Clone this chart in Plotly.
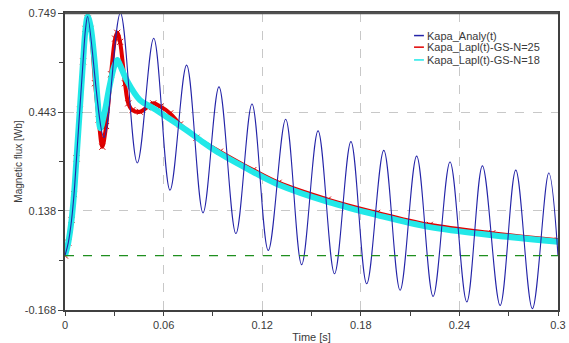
import plotly.graph_objects as go

# ---- data ----
t_analy = [0, 0.002, 0.004, 0.0055, 0.007, 0.009, 0.011, 0.0125, 0.0138,
           0.0237, 0.0337, 0.044, 0.054, 0.0639, 0.074, 0.084, 0.0937, 0.104,
           0.1138, 0.1237, 0.1343, 0.144, 0.154, 0.164, 0.174, 0.1836, 0.194,
           0.2039, 0.214, 0.224, 0.2343, 0.2445, 0.254, 0.2648, 0.2743, 0.2844,
           0.2944, 0.3]
v_analy = [0, 0.04, 0.11, 0.19, 0.30, 0.45, 0.60, 0.70, 0.738,
           0.365, 0.749, 0.286, 0.671, 0.202, 0.588, 0.132, 0.521, 0.068,
           0.468, 0.016, 0.421, -0.028, 0.385, -0.056, 0.352, -0.087, 0.325,
           -0.107, 0.307, -0.126, 0.289, -0.143, 0.277, -0.154, 0.264, -0.164,
           0.255, 0.0]

t_n25 = [0, 0.002, 0.004, 0.0055, 0.007, 0.009, 0.011, 0.0125, 0.0138, 0.0155,
         0.0183, 0.0205, 0.0227, 0.025, 0.028, 0.0305, 0.0318, 0.0335, 0.0365,
         0.0385, 0.041, 0.0456, 0.050, 0.0537, 0.058, 0.064, 0.070, 0.080,
         0.0943, 0.1146, 0.13, 0.16, 0.19, 0.222, 0.26, 0.3]
v_n25 = [0, 0.04, 0.11, 0.19, 0.30, 0.45, 0.60, 0.70, 0.732, 0.70,
         0.532, 0.42, 0.336, 0.40, 0.56, 0.67, 0.688, 0.66, 0.532,
         0.470, 0.449, 0.444, 0.458, 0.470, 0.460, 0.439, 0.405, 0.364,
         0.321, 0.264, 0.225, 0.173, 0.132, 0.095, 0.069, 0.047]

t_n18 = [0, 0.002, 0.004, 0.0055, 0.007, 0.009, 0.011, 0.0125, 0.0138, 0.0155,
         0.018, 0.0200, 0.0215, 0.024, 0.027, 0.030, 0.0318, 0.0335, 0.0375,
         0.0456, 0.0537, 0.064, 0.074, 0.084, 0.0943, 0.1146, 0.13, 0.16, 0.19,
         0.222, 0.26, 0.3]
v_n18 = [0, 0.04, 0.11, 0.19, 0.30, 0.45, 0.60, 0.70, 0.738, 0.71,
         0.60, 0.47, 0.393, 0.44, 0.52, 0.585, 0.604, 0.588, 0.542,
         0.480, 0.455, 0.421, 0.387, 0.350, 0.315, 0.258, 0.219, 0.166, 0.125,
         0.088, 0.063, 0.043]

names = ["Kapa_Analy(t)", "Kapa_Lapl(t)-GS-N=25", "Kapa_Lapl(t)-GS-N=18"]
colors = ["#2424a8", "#e00000", "#22e8e8"]

x_ticks = [0, 0.06, 0.12, 0.18, 0.24, 0.3]
x_ticktext = ["0", "0.06", "0.12", "0.18", "0.24", "0.3"]
x_minor = [0.03, 0.09, 0.15, 0.21, 0.27]
y_ticks = [-0.168, 0.138, 0.443, 0.749]
y_ticktext = ["-0.168", "0.138", "0.443", "0.749"]
y_minor = [-0.015, 0.2905, 0.596]

FONT = "Liberation Sans, Arial, sans-serif"
TXT = "#3a3a3a"

fig = go.Figure()
fig.add_hline(y=0, line=dict(color="#1f8f1f", width=1.2, dash="dash"))

fig.add_trace(go.Scatter(x=t_n25, y=v_n25, mode="lines+markers", name=names[1],
                         line=dict(color=colors[1], width=4, shape="spline"),
                         marker=dict(symbol="x-thin", size=6, line=dict(color="#d00000", width=1)),
                         showlegend=False))
fig.add_trace(go.Scatter(x=t_n18, y=v_n18, mode="lines", name=names[2],
                         line=dict(color=colors[2], width=6, shape="spline"),
                         showlegend=False))
fig.add_trace(go.Scatter(x=t_analy, y=v_analy, mode="lines", name=names[0],
                         line=dict(color=colors[0], width=1.1, shape="spline", smoothing=1),
                         showlegend=False))

# manual legend (paper coordinates)
leg_y = [0.924, 0.885, 0.842]
for nm, c, yy in zip(names, colors, leg_y):
    fig.add_shape(type="line", xref="paper", yref="paper", x0=0.708, x1=0.728, y0=yy, y1=yy,
                  line=dict(color=c, width=1.5))
    fig.add_annotation(xref="paper", yref="paper", x=0.731, y=yy, text=nm, showarrow=False,
                       xanchor="left", yanchor="middle", font=dict(family=FONT, size=11, color=TXT))

# top border thicker
fig.add_shape(type="line", xref="paper", yref="paper", x0=0, x1=1, y0=1, y1=1,
              line=dict(color="#505050", width=2.5))

fig.update_layout(
    width=569, height=343,
    margin=dict(l=65, r=11, t=13, b=33),
    paper_bgcolor="white", plot_bgcolor="white",
    font=dict(family=FONT, size=11, color=TXT),
)
fig.update_xaxes(range=[0, 0.3], tickvals=x_ticks, ticktext=x_ticktext, automargin=False,
                 showline=True, linecolor="#404040", linewidth=1.5, mirror=True,
                 ticks="outside", ticklen=4, tickcolor="#404040",
                 showgrid=True, gridcolor="#c8c8c8", griddash="dash", gridwidth=1,
                 zeroline=False,
                 minor=dict(tickvals=x_minor, ticks="outside", ticklen=4, tickcolor="#404040", showgrid=False),
                 title=dict(text="Time [s]", font=dict(size=11), standoff=3),
                 tickfont=dict(size=11, color=TXT))
fig.update_yaxes(range=[-0.168, 0.749], tickvals=y_ticks, ticktext=y_ticktext, automargin=False,
                 showline=True, linecolor="#404040", linewidth=1.5, mirror=True,
                 ticks="outside", ticklen=5, tickcolor="#404040",
                 showgrid=True, gridcolor="#c8c8c8", griddash="dash", gridwidth=1,
                 zeroline=False,
                 minor=dict(tickvals=y_minor, ticks="outside", ticklen=4, tickcolor="#404040", showgrid=False),
                 title=dict(text="Magnetic flux [Wb]", font=dict(size=10), standoff=0),
                 tickfont=dict(size=11, color=TXT))

fig.write_html("out.html")
